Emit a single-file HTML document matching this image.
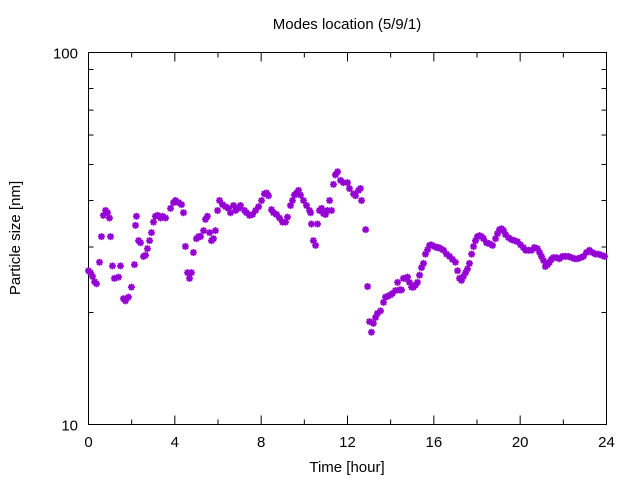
<!DOCTYPE html>
<html><head><meta charset="utf-8"><style>
body{margin:0;background:#fff}
svg{display:block;font-family:"Liberation Sans",sans-serif}
</style></head><body>
<svg id="chart" width="640" height="480">
<text x="347" y="29" font-size="15" text-anchor="middle">Modes location (5/9/1)</text>
<text x="347" y="472" font-size="15" text-anchor="middle">Time [hour]</text>
<text x="20" y="238" font-size="15" text-anchor="middle" transform="rotate(-90 20 238)">Particle size [nm]</text>
<rect x="88.5" y="52.5" width="518" height="372" fill="none" stroke="#000"/>
<g id="axes"></g>
<g id="pts"></g>
</svg>
<script>
const xTicks=[0,4,8,12,16,20,24];
const yTicks=[10,100];
const times=[0.00,0.09,0.19,0.28,0.37,0.51,0.60,0.69,0.79,0.88,0.97,1.02,1.11,1.20,1.39,1.48,1.62,1.71,1.85,1.99,2.13,2.18,2.22,2.32,2.41,2.55,2.64,2.73,2.83,2.92,3.01,3.10,3.20,3.34,3.43,3.57,3.80,3.94,4.03,4.17,4.31,4.40,4.49,4.59,4.68,4.77,4.86,5.00,5.10,5.19,5.33,5.42,5.51,5.61,5.70,5.79,5.88,5.98,6.07,6.21,6.35,6.49,6.58,6.72,6.81,6.95,7.04,7.23,7.32,7.46,7.60,7.74,7.88,8.02,8.15,8.25,8.34,8.48,8.57,8.71,8.85,8.99,9.13,9.22,9.36,9.45,9.54,9.64,9.73,9.82,9.96,10.10,10.24,10.29,10.33,10.42,10.52,10.61,10.70,10.80,10.89,10.98,11.07,11.17,11.26,11.35,11.44,11.54,11.68,11.81,12.00,12.09,12.28,12.37,12.51,12.60,12.65,12.84,12.93,13.02,13.11,13.20,13.30,13.39,13.53,13.67,13.76,13.85,13.99,14.08,14.22,14.32,14.41,14.50,14.59,14.69,14.78,14.87,14.97,15.06,15.15,15.24,15.34,15.43,15.52,15.61,15.71,15.80,15.89,16.03,16.12,16.22,16.31,16.45,16.59,16.73,16.86,17.00,17.10,17.19,17.28,17.37,17.47,17.56,17.65,17.75,17.84,17.93,18.02,18.12,18.21,18.30,18.44,18.58,18.72,18.86,18.95,19.04,19.14,19.23,19.32,19.46,19.60,19.74,19.88,20.02,20.15,20.25,20.39,20.53,20.66,20.80,20.90,20.99,21.08,21.17,21.27,21.36,21.45,21.54,21.68,21.82,21.96,22.10,22.24,22.38,22.52,22.66,22.80,22.93,23.07,23.21,23.35,23.49,23.63,23.77,23.91];
const sizes=[25.9,25.6,25.0,24.2,23.9,27.3,32.0,36.5,37.6,37.1,35.9,32.0,26.7,24.7,24.9,26.7,21.8,21.5,22.0,23.4,26.9,34.3,36.3,31.2,30.8,28.3,28.5,29.7,31.2,32.8,35.0,36.3,36.5,35.9,36.3,35.9,38.1,39.5,40.0,39.5,39.0,37.1,30.1,25.6,24.7,25.6,29.0,31.6,32.0,32.0,33.2,35.6,36.3,32.8,31.2,31.6,33.2,37.6,40.0,39.0,38.5,38.1,37.1,38.8,37.6,38.1,38.8,37.6,37.1,36.5,36.7,37.6,38.5,40.0,41.7,41.9,41.2,37.8,37.1,36.7,35.9,35.0,35.0,36.1,38.8,40.0,41.4,41.9,42.6,41.4,40.0,38.8,37.6,37.1,34.6,31.2,30.3,34.6,37.6,38.1,36.9,36.7,37.6,40.0,37.6,44.2,46.9,47.8,45.3,44.7,44.7,43.1,41.7,41.2,42.6,43.1,40.0,33.4,23.5,18.9,17.7,18.7,19.4,19.9,20.2,21.3,22.0,22.1,22.3,22.5,22.9,24.1,23.0,23.0,24.7,24.7,24.9,24.1,23.4,23.4,23.7,24.1,25.2,26.4,27.1,28.7,29.5,30.3,30.4,30.1,29.9,29.9,29.7,29.4,28.7,28.3,27.8,27.3,25.9,24.7,24.4,25.0,25.6,26.2,27.1,28.7,30.1,31.2,32.0,32.2,32.0,31.6,30.8,30.6,30.3,31.6,32.6,33.4,33.6,33.2,32.4,31.8,31.4,31.2,31.0,30.4,29.9,29.4,29.4,29.4,29.9,29.7,29.0,28.3,27.6,26.6,26.9,27.3,27.8,28.1,28.1,27.9,28.3,28.3,28.3,28.1,27.9,27.9,28.1,28.3,29.0,29.4,29.0,28.7,28.7,28.5,28.3];
const X0=88.5,X1=606.5,Y0=424.5,Y1=52.5;
const xs=t=>X0+(t-0)/(24-0)*(X1-X0);
const ys=v=>Y0-(Math.log10(v)-1)/(2-1)*(Y0-Y1);
const NS="http://www.w3.org/2000/svg";
const axes=document.getElementById('axes');
function ln(x1,y1,x2,y2,g,name){const l=document.createElementNS(NS,'line');l.setAttribute('x1',x1);l.setAttribute('y1',y1);l.setAttribute('x2',x2);l.setAttribute('y2',y2);l.setAttribute('stroke','#000');


g.appendChild(l);}
for(let t=0;t<=24;t+=2){const x=xs(t),len=(t%4===0)?9:5;ln(x,Y0,x,Y0-len,axes,'x-tick');ln(x,Y1,x,Y1+len,axes,'x-tick-top');}
xTicks.forEach(t=>{const tx=document.createElementNS(NS,'text');tx.setAttribute('x',xs(t));tx.setAttribute('y',447);tx.setAttribute('font-size','15');tx.setAttribute('text-anchor','middle');tx.textContent=t;


axes.appendChild(tx);});
for(let d=1;d<=10;d++){const y=ys(d*10),len=(d===1||d===10)?9:5;ln(X0,y,X0+len,y,axes,'y-tick');ln(X1,y,X1-len,y,axes,'y-tick-right');}
yTicks.forEach(v=>{const tx=document.createElementNS(NS,'text');tx.setAttribute('x',78);tx.setAttribute('y',ys(v)+6);tx.setAttribute('font-size','15');tx.setAttribute('text-anchor','end');tx.textContent=v;


axes.appendChild(tx);});
const pts=document.getElementById('pts');
times.forEach((t,i)=>{const x=xs(t),y=ys(sizes[i]);const p=document.createElementNS(NS,'path');
p.setAttribute('d',`M${x-3.5},${y}h7M${x},${y-3.5}v7M${x-2.5},${y-2.5}l5,5M${x-2.5},${y+2.5}l5,-5`);
p.setAttribute('stroke','#9400d3');p.setAttribute('stroke-width','1.8');


pts.appendChild(p);});
</script>
</body></html>
